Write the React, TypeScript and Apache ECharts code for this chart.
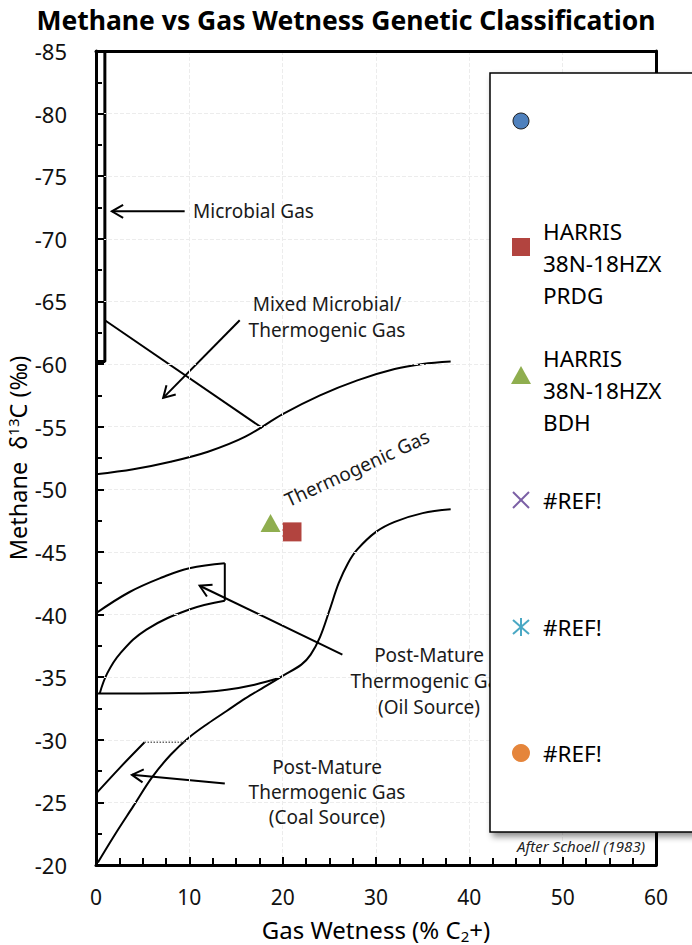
import React, { useEffect, useRef } from "react";
import * as echarts from "echarts";

// ---------- data ----------
const titleText = "Methane vs Gas Wetness Genetic Classification";
const xAxisMin = 0;
const xAxisMax = 60;
const xAxisInterval = 10;
const yAxisMin = -85;
const yAxisMax = -20;
const yAxisInterval = 5;

// boundary lines of the Schoell (1983) diagram: [gas wetness, δ13C]
const microbialBox = [[0.95, -85], [0.95, -60.2], [0, -60.2]];
const mixedLine = [[0.95, -63.5], [17.8, -54.9]];
const thermoUpper = [[0, -51.2], [4, -51.6], [8, -52.2], [12, -53], [16, -54.2], [20, -56.0], [24, -57.5], [28, -58.7], [32, -59.6], [35, -60], [38, -60.2]];
const thermoLower = [[0.2, -20.2], [2, -22.4], [4, -24.7], [6, -27], [8, -28.8], [10, -30.2], [12, -31.3], [14, -32.3], [16, -33.3], [18, -34.2], [20, -35.1], [22, -36], [23, -36.8], [24, -38.2], [25, -40.3], [26, -42.5], [27, -44.1], [28, -45.2], [30, -46.6], [32, -47.4], [35, -48.1], [38, -48.4]];
const oilUpper = [[0, -40.1], [3.6, -41.8], [7.2, -43], [10, -43.7], [13.8, -44.1]];
const oilRight = [[13.8, -44.1], [13.8, -41.1]];
const oilLower = [[13.8, -41.1], [10, -40.4], [5.4, -38.8], [2.6, -36.9], [1.2, -35.3], [0.4, -33.7]];
const oilBottom = [[0, -33.7], [5, -33.7], [10, -33.75], [14, -34], [17, -34.4], [19.7, -34.95]];
const coalUpper = [[0, -25.7], [2.6, -27.8], [5.2, -29.8]];
const coalTop = [[5.2, -29.8], [9.7, -29.8]];

// arrows: [tailX, tailY, headX, headY]
const arrows = [
  [9.5, -72.2, 1.7, -72.2],
  [15.4, -63.5, 7.2, -57.3],
  [26.4, -36.8, 11.1, -42.3],
  [13.8, -26.5, 3.85, -27.2],
];

// samples
const seriesNames = ["", "HARRIS\n38N-18HZX\nPRDG", "HARRIS\n38N-18HZX\nBDH", "#REF!", "#REF!", "#REF!"];
const prdgPoints = [[21.0, -46.6]];
const bdhPoints = [[18.7, -47.3]];

const annotationTexts = [
  "Microbial Gas",
  "Mixed Microbial/\nThermogenic Gas",
  "Thermogenic Gas",
  "Post-Mature\nThermogenic Gas\n(Oil Source)",
  "Post-Mature\nThermogenic Gas\n(Coal Source)",
  "After Schoell (1983)",
];

const FONT = "'Noto Sans', 'Open Sans', sans-serif";

function boundary(data: number[][], smooth: number | boolean, extra: any = {}) {
  return {
    type: "line",
    data,
    symbol: "none",
    smooth,
    silent: true,
    z: 3,
    lineStyle: { color: "#000", width: 2, ...(extra.lineStyle || {}) },
  };
}

export default function App() {
  const ref = useRef<HTMLDivElement>(null);

  useEffect(() => {
    if (!ref.current) return;
    const chart = echarts.init(ref.current, undefined, { renderer: "svg" });

    const arrowSeries = {
      type: "custom",
      silent: true,
      z: 4,
      data: arrows,
      encode: { x: [0, 2], y: [1, 3] },
      renderItem: (params: any, api: any) => {
        const p1 = api.coord([api.value(0), api.value(1)]);
        const p2 = api.coord([api.value(2), api.value(3)]);
        const ang = Math.atan2(p2[1] - p1[1], p2[0] - p1[0]);
        const L = 13;
        const a = Math.PI / 6;
        const h1 = [p2[0] - L * Math.cos(ang - a), p2[1] - L * Math.sin(ang - a)];
        const h2 = [p2[0] - L * Math.cos(ang + a), p2[1] - L * Math.sin(ang + a)];
        return {
          type: "group",
          children: [
            { type: "line", shape: { x1: p1[0], y1: p1[1], x2: p2[0], y2: p2[1] }, style: { stroke: "#000", lineWidth: 2 } },
            { type: "polyline", shape: { points: [h1, p2, h2] }, style: { stroke: "#000", lineWidth: 2, fill: null } },
          ],
        };
      },
    };

    const annoStyle = (extra: any) => ({
      fontFamily: FONT,
      fontSize: 19,
      fill: "#1a1a1a",
      ...extra,
    });

    const legendX = 521;
    const legendTextX = 543;
    const legendFont = { fontFamily: FONT, fontSize: 22.5, fill: "#000", lineHeight: 32 };

    const frameAxis = { show: true, onZero: false, lineStyle: { color: "#000", width: 3 } };

    const option: any = {
      animation: false,
      backgroundColor: "#fff",
      title: {
        text: titleText,
        left: "center",
        top: 5,
        padding: 0,
        textStyle: { fontFamily: FONT, fontSize: 26.5, fontWeight: "bold", color: "#000", lineHeight: 30 },
      },
      grid: {
        left: 96,
        right: 36,
        top: 51,
        bottom: 80,
        containLabel: false,
        outerBoundsMode: "none",
      },
      xAxis: [
        {
          type: "value",
          min: xAxisMin,
          max: xAxisMax,
          interval: xAxisInterval,
          name: "{a|Gas Wetness (% C}{s|2}{a|+)}",
          nameLocation: "middle",
          nameGap: 50,
          nameMoveOverlap: false,
          nameTextStyle: {
            rich: {
              a: { fontFamily: FONT, fontSize: 24, color: "#000" },
              s: { fontFamily: FONT, fontSize: 15, color: "#000", verticalAlign: "bottom", padding: [13, 0, 0, 0] },
            },
          },
          axisLine: { show: true, onZero: false, lineStyle: { color: "#000", width: 3 } },
          axisTick: { show: true, inside: true, length: 8, lineStyle: { color: "#000", width: 2 } },
          minorTick: { show: true, splitNumber: 4, length: 7, lineStyle: { color: "#000", width: 2 } },
          axisLabel: { fontFamily: FONT, fontSize: 21, color: "#111", margin: 21 },
          splitLine: { show: true, lineStyle: { color: "#ececec", width: 1, type: "dashed" } },
          z: 6,
        },
        {
          type: "value",
          position: "top",
          min: xAxisMin,
          max: xAxisMax,
          axisLine: frameAxis,
          axisTick: { show: false },
          axisLabel: { show: false },
          splitLine: { show: false },
          z: 6,
        },
      ],
      yAxis: [
        {
          type: "value",
          inverse: true,
          min: yAxisMin,
          max: yAxisMax,
          interval: yAxisInterval,
          name: "{a|Methane  δ}{s|13}{a|C (‰)}",
          nameLocation: "middle",
          nameGap: 66,
          nameMoveOverlap: false,
          nameTextStyle: {
            rich: {
              a: { fontFamily: FONT, fontSize: 23.5, color: "#000" },
              s: { fontFamily: FONT, fontSize: 15, color: "#000", verticalAlign: "top", padding: [0, 0, 10, 0] },
            },
          },
          axisLine: { show: true, onZero: false, lineStyle: { color: "#000", width: 3 } },
          axisTick: { show: true, inside: true, length: 8, lineStyle: { color: "#000", width: 2 } },
          minorTick: { show: true, splitNumber: 2, length: 6, lineStyle: { color: "#000", width: 2 } },
          axisLabel: { fontFamily: FONT, fontSize: 22, color: "#111", margin: 29 },
          splitLine: { show: true, lineStyle: { color: "#ececec", width: 1, type: "dashed" } },
          z: 6,
        },
        {
          type: "value",
          position: "right",
          inverse: true,
          min: yAxisMin,
          max: yAxisMax,
          axisLine: frameAxis,
          axisTick: { show: false },
          axisLabel: { show: false },
          splitLine: { show: false },
          z: 6,
        },
      ],
      series: [
        boundary(microbialBox, false, { lineStyle: { width: 3 } }),
        boundary(mixedLine, false),
        boundary(thermoUpper, 0.35),
        boundary(thermoLower, 0.35),
        boundary(oilUpper, 0.4),
        boundary(oilRight, false),
        boundary(oilLower, 0.4),
        boundary(oilBottom, 0.4),
        boundary(coalUpper, 0.3),
        boundary(coalTop, false, { lineStyle: { color: "#666", width: 1.5, type: "dotted" } }),
        arrowSeries,
        {
          type: "scatter",
          name: seriesNames[2],
          data: bdhPoints,
          symbol: "triangle",
          symbolSize: [20, 18],
          itemStyle: { color: "#8fae4f", opacity: 1 },
          z: 5,
        },
        {
          type: "scatter",
          name: seriesNames[1],
          data: prdgPoints,
          symbol: "rect",
          symbolSize: 19,
          itemStyle: { color: "#b2443f", opacity: 1 },
          z: 5,
        },
      ],
      graphic: [
        // annotations
        { type: "text", z: 50, style: annoStyle({ text: annotationTexts[0], x: 193, y: 211, verticalAlign: "middle" }) },
        { type: "text", z: 50, style: annoStyle({ text: annotationTexts[1], x: 327, y: 317, align: "center", verticalAlign: "middle", lineHeight: 26 }) },
        { type: "text", z: 50, x: 357, y: 468, rotation: (24.8 * Math.PI) / 180, style: annoStyle({ text: annotationTexts[2], x: 0, y: 0, align: "center", verticalAlign: "middle" }) },
        { type: "text", z: 50, style: annoStyle({ text: annotationTexts[3], x: 429, y: 681, align: "center", verticalAlign: "middle", lineHeight: 26 }) },
        { type: "text", z: 50, style: annoStyle({ text: annotationTexts[4], x: 327, y: 792, align: "center", verticalAlign: "middle", lineHeight: 25 }) },
        // legend box
        {
          type: "group",
          z: 100,
          children: [
            {
              type: "rect",
              z: 100,
              shape: { x: 490, y: 73, width: 230, height: 759 },
              style: { fill: "#fff", stroke: "#000", lineWidth: 1.5, shadowBlur: 6, shadowOffsetX: 3, shadowOffsetY: 4, shadowColor: "rgba(0,0,0,0.45)" },
            },
            { type: "circle", z: 101, shape: { cx: legendX, cy: 121, r: 8 }, style: { fill: "#4f81bd", stroke: "#1f1f1f", lineWidth: 1 } },
            { type: "text", z: 101, style: { ...legendFont, text: seriesNames[0], x: legendTextX, y: 121, verticalAlign: "middle" } },
            { type: "rect", z: 101, shape: { x: legendX - 9, y: 238, width: 18, height: 18 }, style: { fill: "#b2443f" } },
            { type: "text", z: 101, style: { ...legendFont, text: seriesNames[1], x: legendTextX, y: 263, verticalAlign: "middle" } },
            { type: "polygon", z: 101, shape: { points: [[legendX, 366], [legendX + 10, 384], [legendX - 10, 384]] }, style: { fill: "#8fae4f" } },
            { type: "text", z: 101, style: { ...legendFont, text: seriesNames[2], x: legendTextX, y: 390, verticalAlign: "middle" } },
            { type: "line", z: 101, shape: { x1: legendX - 8, y1: 492, x2: legendX + 8, y2: 508 }, style: { stroke: "#7b5fa5", lineWidth: 2 } },
            { type: "line", z: 101, shape: { x1: legendX - 8, y1: 508, x2: legendX + 8, y2: 492 }, style: { stroke: "#7b5fa5", lineWidth: 2 } },
            { type: "text", z: 101, style: { ...legendFont, text: seriesNames[3], x: legendTextX, y: 500, verticalAlign: "middle" } },
            { type: "line", z: 101, shape: { x1: legendX, y1: 618, x2: legendX, y2: 636 }, style: { stroke: "#4aa8c4", lineWidth: 2 } },
            { type: "line", z: 101, shape: { x1: legendX - 8, y1: 620, x2: legendX + 8, y2: 634 }, style: { stroke: "#4aa8c4", lineWidth: 2 } },
            { type: "line", z: 101, shape: { x1: legendX - 8, y1: 634, x2: legendX + 8, y2: 620 }, style: { stroke: "#4aa8c4", lineWidth: 2 } },
            { type: "text", z: 101, style: { ...legendFont, text: seriesNames[4], x: legendTextX, y: 627, verticalAlign: "middle" } },
            { type: "circle", z: 101, shape: { cx: legendX, cy: 753, r: 9 }, style: { fill: "#e5853b" } },
            { type: "text", z: 101, style: { ...legendFont, text: seriesNames[5], x: legendTextX, y: 753, verticalAlign: "middle" } },
          ],
        },
        { type: "text", z: 60, style: { text: annotationTexts[5], x: 645, y: 846, align: "right", verticalAlign: "middle", fontFamily: FONT, fontSize: 15, fontStyle: "italic", fill: "#222" } },
      ],
    };

    chart.setOption(option);
    return () => chart.dispose();
  }, []);

  return <div ref={ref} style={{ position: "absolute", left: 0, top: 0, width: 692, height: 945 }} />;
}
